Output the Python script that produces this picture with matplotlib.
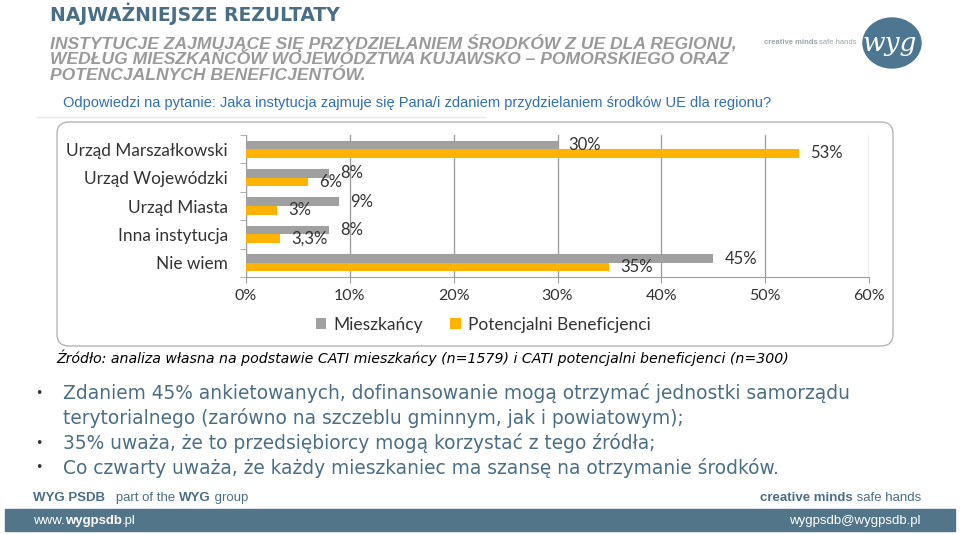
import matplotlib
matplotlib.use("Agg")
import matplotlib.pyplot as plt
import numpy as np
from matplotlib.patches import FancyBboxPatch, Rectangle, Ellipse

# chart data
categories = ["Urząd Marszałkowski", "Urząd Wojewódzki", "Urząd Miasta",
              "Inna instytucja", "Nie wiem"]
mieszkancy = [30, 8, 9, 8, 45]
beneficjenci = [53.3, 6, 3, 3.3, 35]
labels_m = ["30%", "8%", "9%", "8%", "45%"]
labels_b = ["53%", "6%", "3%", "3,3%", "35%"]
xticks = [0, 10, 20, 30, 40, 50, 60]

title = "NAJWAŻNIEJSZE REZULTATY"
subtitle = ["INSTYTUCJE ZAJMUJĄCE SIĘ PRZYDZIELANIEM ŚRODKÓW Z UE DLA REGIONU,",
            "WEDŁUG MIESZKAŃCÓW WOJEWÓDZTWA KUJAWSKO – POMORSKIEGO ORAZ",
            "POTENCJALNYCH BENEFICJENTÓW."]
question = "Odpowiedzi na pytanie: Jaka instytucja zajmuje się Pana/i zdaniem przydzielaniem środków UE dla regionu?"
source = "Źródło: analiza własna na podstawie CATI mieszkańcy (n=1579) i CATI potencjalni beneficjenci (n=300)"
bullets = [["Zdaniem 45% ankietowanych, dofinansowanie mogą otrzymać jednostki samorządu",
            "terytorialnego (zarówno na szczeblu gminnym, jak i powiatowym);"],
           ["35% uważa, że to przedsiębiorcy mogą korzystać z tego źródła;"],
           ["Co czwarty uważa, że każdy mieszkaniec ma szansę na otrzymanie środków."]]

GREY = "#a0a0a0"
ORANGE = "#ffb300"
SLATE = "#4a6e85"
TXT = "#333333"

W, H = 960, 534
fig = plt.figure(figsize=(W / 100, H / 100), dpi=100)
renderer = fig.canvas.get_renderer()

# background axes in pixel coordinates (origin top-left)
bg = fig.add_axes([0, 0, 1, 1])
bg.set_xlim(0, W)
bg.set_ylim(H, 0)
bg.axis("off")


def runs(x, y, parts, size, color, ha="left"):
    # parts: list of (text, bold) drawn one after another
    texts = []
    for s, bold in parts:
        t = bg.text(x, y, s, fontsize=size, color=color, family="Liberation Sans",
                    fontweight="bold" if bold else "normal", va="center", ha="left")
        w = t.get_window_extent(renderer).width
        texts.append((t, w))
        x += w
    if ha == "right":
        total = sum(w for _, w in texts)
        for t, _ in texts:
            px, py = t.get_position()
            t.set_position((px - total, py))


bg.text(50, 14, title, fontsize=13.5, fontweight="bold", color=SLATE,
        family="DejaVu Sans", va="center", ha="left")
for i, line in enumerate(subtitle):
    bg.text(50, 43 + i * 16, line, fontsize=12.6, fontweight="bold", style="italic",
            color="#9a9a9a", family="Liberation Sans", va="center", ha="left")
bg.text(63, 103, question, fontsize=10.55, color="#2f6fb0",
        family="Liberation Sans", va="center", ha="left")
bg.plot([37, 485], [117, 117], color="#e8e8e8", lw=1)

# logo
runs(857, 43, [("creative minds ", True), ("safe hands", False)], 5.5, "#9aa4aa", ha="right")
bg.add_patch(Ellipse((892, 43), 58, 50, color="#4d7790"))
bg.text(890, 44, "wyg", fontsize=19, style="italic", color="white",
        va="center", ha="center", family="DejaVu Serif")

# chart frame
bg.add_patch(FancyBboxPatch((57, 122), 836, 224, boxstyle="round,pad=0,rounding_size=12",
                            facecolor="white", edgecolor="#b5b5b5", lw=1))

# chart
ax = fig.add_axes([246 / W, 1 - 277 / H, (869 - 246) / W, (277 - 135) / H])
ax.patch.set_alpha(0)
y = np.arange(len(categories))
h = 0.3
ax.barh(y - h / 2, mieszkancy, height=h, color=GREY, zorder=3, label="Mieszkańcy")
ax.barh(y + h / 2, beneficjenci, height=h, color=ORANGE, zorder=3,
        label="Potencjalni Beneficjenci")
for i in range(len(categories)):
    ax.annotate(labels_m[i], (mieszkancy[i], y[i] - h / 2), xytext=(8, 0),
                textcoords="offset points", va="center", ha="left",
                fontsize=12, family="Lato", color=TXT)
    ax.annotate(labels_b[i], (beneficjenci[i], y[i] + h / 2), xytext=(8, 0),
                textcoords="offset points", va="center", ha="left",
                fontsize=12, family="Lato", color=TXT)

ax.set_xlim(0, 60)
ax.set_ylim(4.5, -0.5)
ax.set_xticks(xticks)
ax.set_xticklabels([f"{t}%" for t in xticks], fontsize=11.5, family="Lato", color=TXT)
ax.set_yticks(y)
ax.set_yticklabels(categories, fontsize=12.4, family="Lato", color=TXT)
ax.set_yticks(np.arange(-0.5, 5, 1), minor=True)
ax.tick_params(axis="y", which="major", length=0, pad=13)
ax.tick_params(axis="y", which="minor", length=4, color=GREY)
ax.tick_params(axis="x", length=4, color=GREY, pad=5)
ax.grid(axis="x", color=GREY, lw=1, zorder=0)
for s in ["top", "right"]:
    ax.spines[s].set_visible(False)
for s in ["left", "bottom"]:
    ax.spines[s].set_color(GREY)

leg = ax.legend(loc="center", bbox_to_anchor=(483 / W, 1 - 325 / H),
                bbox_transform=fig.transFigure, ncol=2, frameon=False,
                handlelength=0.6, handleheight=0.6, columnspacing=1.6,
                handletextpad=0.4, prop={"family": "Lato", "size": 12.5})
for t in leg.get_texts():
    t.set_color(TXT)

# source and bullets
bg.text(56, 358, source, fontsize=10.15, style="italic", color="black",
        family="DejaVu Sans", va="center", ha="left")
yy = 393
for b in bullets:
    bg.text(35, yy, "•", fontsize=9, color=TXT, va="center", ha="left")
    for line in b:
        bg.text(63, yy, line, fontsize=13.4, color=SLATE, family="DejaVu Sans",
                va="center", ha="left")
        yy += 25

# footer
runs(33, 498, [("WYG PSDB", True), ("   part of the ", False), ("WYG", True),
               (" group", False)], 9.5, SLATE)
runs(921, 498, [("creative minds", True), (" safe hands", False)], 9.5, SLATE, ha="right")
bg.add_patch(Rectangle((5, 509), 950, 22, color="#527589"))
runs(33, 521, [("www.", False), ("wygpsdb", True), (".pl", False)], 9.5, "white")
runs(921, 521, [("wygpsdb@wygpsdb.pl", False)], 9.5, "white", ha="right")

fig.savefig("out.png", dpi=100)
